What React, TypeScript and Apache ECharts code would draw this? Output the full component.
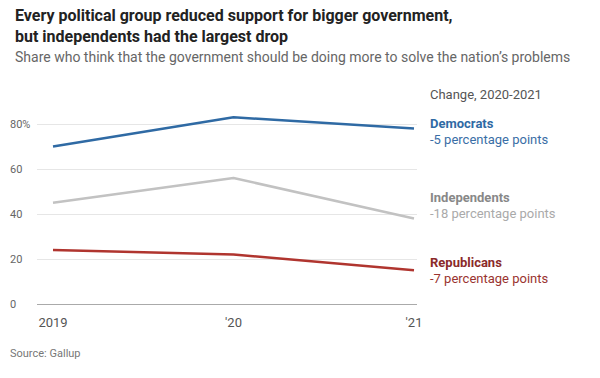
import React, { useEffect, useRef } from "react";
import * as echarts from "echarts";

const years = ["2019", "'20", "'21"];
const democrats = [70, 83, 78];
const independents = [45, 56, 38];
const republicans = [24, 22, 15];
const yTicks = [0, 20, 40, 60, 80];

const FONT = "Roboto, 'Noto Sans', sans-serif";

export default function App() {
  const ref = useRef<HTMLDivElement>(null);
  useEffect(() => {
    if (!ref.current) return;
    const chart = echarts.init(ref.current, undefined, { renderer: "svg" });
    const mk = (name: string, data: number[], color: string) => ({
      type: "line",
      name,
      data,
      xAxisIndex: 1,
      yAxisIndex: 1,
      symbol: "none",
      clip: false,
      lineStyle: { color, width: 2.5 },
      silent: true,
    });
    chart.setOption({
      animation: false,
      textStyle: { fontFamily: FONT },
      title: [
        {
          text: "Every political group reduced support for bigger government,\nbut independents had the largest drop",
          left: 10,
          top: 0,
          textStyle: { fontSize: 16, fontWeight: "bold", color: "#222", lineHeight: 21, fontFamily: FONT },
        },
        {
          text: "Share who think that the government should be doing more to solve the nation\u2019s problems",
          left: 10,
          top: 45,
          textStyle: { fontSize: 14, fontWeight: "normal", color: "#666", fontFamily: FONT },
        },
      ],
      grid: [
        { left: 37, right: 183, top: 124, bottom: 74 },
        { left: 53, right: 186, top: 124, bottom: 74 },
      ],
      xAxis: [
        { gridIndex: 0, type: "value", min: 0, max: 1, show: false },
        {
          gridIndex: 1,
          type: "category",
          data: years,
          boundaryGap: false,
          axisLine: { show: false },
          axisTick: { show: false },
          axisLabel: { color: "#555", fontSize: 13, margin: 12, fontFamily: FONT },
        },
      ],
      yAxis: [
        {
          gridIndex: 0,
          type: "value",
          min: 0,
          max: 80,
          interval: 20,
          axisLine: { show: false },
          axisTick: { show: false },
          splitLine: {
            lineStyle: {
              color: yTicks.map((t) => (t === 0 ? "#aaa" : "#e6e6e6")),
              width: 1,
            },
          },
          axisLabel: {
            color: "#666",
            fontSize: 11,
            align: "left",
            margin: 27,
            fontFamily: FONT,
            formatter: (v: number) => (v === 80 ? "80%" : String(v)),
          },
        },
        { gridIndex: 1, type: "value", min: 0, max: 80, show: false },
      ],
      series: [
        mk("Independents", independents, "#c2c2c2"),
        mk("Republicans", republicans, "#b0352f"),
        mk("Democrats", democrats, "#2f6aa4"),
      ],
      graphic: [
        { type: "text", left: 430, top: 88, style: { text: "Change, 2020-2021", fontSize: 13, fill: "#555", fontFamily: FONT } },
        { type: "text", left: 430, top: 117, style: { text: "Democrats", fontSize: 13, fontWeight: "bold", fill: "#2f6aa4", fontFamily: FONT } },
        { type: "text", left: 430, top: 133, style: { text: "-5 percentage points", fontSize: 13, fill: "#3a6ea6", fontFamily: FONT } },
        { type: "text", left: 430, top: 191, style: { text: "Independents", fontSize: 13, fontWeight: "bold", fill: "#888", fontFamily: FONT } },
        { type: "text", left: 430, top: 207, style: { text: "-18 percentage points", fontSize: 13, fill: "#aaa", fontFamily: FONT } },
        { type: "text", left: 430, top: 256, style: { text: "Republicans", fontSize: 13, fontWeight: "bold", fill: "#8b2a2a", fontFamily: FONT } },
        { type: "text", left: 430, top: 272, style: { text: "-7 percentage points", fontSize: 13, fill: "#9a3430", fontFamily: FONT } },
        { type: "text", left: 10, top: 348, style: { text: "Source: Gallup", fontSize: 11, fill: "#777", fontFamily: FONT } },
      ],
    });
    return () => chart.dispose();
  }, []);
  return <div ref={ref} style={{ width: 600, height: 378, position: "absolute", left: 0, top: 0 }} />;
}
